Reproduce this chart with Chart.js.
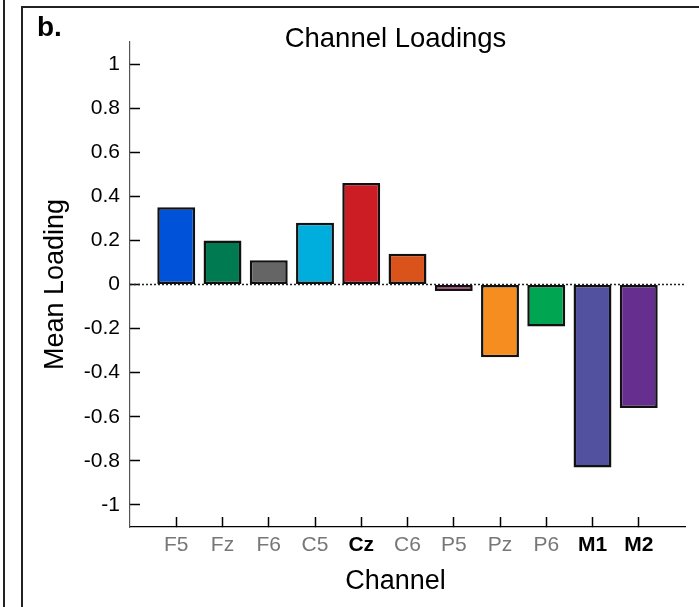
<!DOCTYPE html>
<html>
<head>
<meta charset="utf-8">
<title>Channel Loadings</title>
<script src="https://cdn.jsdelivr.net/npm/chart.js@4.4.0/dist/chart.umd.min.js"></script>
<style>
  html, body { margin: 0; padding: 0; background: #fff; overflow: hidden; }
  #wrap { position: relative; width: 699px; height: 607px; overflow: hidden; }
  .edge { position: absolute; left: 3px; top: 0; width: 2px; height: 607px; background: #222; }
  .frame-top { position: absolute; left: 21px; top: 6px; width: 678px; height: 2px; background: #222; }
  .frame-left { position: absolute; left: 21px; top: 6px; width: 2px; height: 601px; background: #222; }
  canvas { position: absolute; left: 0; top: 0; }
</style>
</head>
<body>
<div id="wrap">
  <div class="edge"></div>
  <div class="frame-top"></div>
  <div class="frame-left"></div>
  <canvas id="myChart" width="699" height="607"></canvas>
</div>
<script>
const channels = ['F5', 'Fz', 'F6', 'C5', 'Cz', 'C6', 'P5', 'Pz', 'P6', 'M1', 'M2'];
const loadings = [0.35, 0.2, 0.11, 0.28, 0.46, 0.14, -0.03, -0.33, -0.19, -0.83, -0.56];
const barColors = ['#0052d9', '#007a50', '#646564', '#00aedd', '#cc1d25', '#d9531a',
                   '#b51f6b', '#f68d20', '#00a551', '#5151a0', '#662e8e'];
const boldChannels = ['Cz', 'M1', 'M2'];
const yTicks = [-1, -0.8, -0.6, -0.4, -0.2, 0, 0.2, 0.4, 0.6, 0.8, 1];

const FONT = '"Liberation Sans", Arial, sans-serif';
Chart.defaults.font.family = FONT;
Chart.defaults.color = '#000';

// dotted line at zero, under the bars
const zeroLine = {
    id: 'zeroLine',
    beforeDatasetsDraw(chart) {
        const { ctx, chartArea, scales } = chart;
        const y = scales.y.getPixelForValue(0);
        ctx.save();
        ctx.strokeStyle = '#222';
        ctx.lineWidth = 1.5;
        ctx.setLineDash([2, 2]);
        ctx.beginPath();
        ctx.moveTo(chartArea.left, y);
        ctx.lineTo(chartArea.right, y);
        ctx.stroke();
        ctx.restore();
    }
};

// panel letter, title and x title (both titles sit a bit left of the plot centre)
const panelText = {
    id: 'panelText',
    afterDraw(chart) {
        const { ctx, chartArea } = chart;
        const cx = (chartArea.left + chartArea.right) / 2 - 12;
        ctx.save();
        ctx.fillStyle = '#000';
        ctx.textBaseline = 'alphabetic';
        ctx.textAlign = 'left';
        ctx.font = 'bold 28px ' + FONT;
        ctx.fillText('b.', 37, 36);
        ctx.textAlign = 'center';
        ctx.font = '27.5px ' + FONT;
        ctx.fillText('Channel Loadings', cx, 47);
        ctx.font = '27px ' + FONT;
        ctx.fillText('Channel', cx, 589);
        ctx.restore();
    }
};

const ctx = document.getElementById('myChart').getContext('2d');
const myChart = new Chart(ctx, {
    type: 'bar',
    data: {
        datasets: [{
            label: 'Mean Loading',
            data: channels.map((c, i) => ({ x: i + 1, y: loadings[i] })),
            backgroundColor: barColors,
            borderColor: '#111',
            borderWidth: 2.5,
            borderSkipped: false,
            barPercentage: 0.82,
            categoryPercentage: 1
        }]
    },
    options: {
        responsive: false,
        animation: false,
        layout: { padding: { left: 30, right: 14, top: 42, bottom: 0 } },
        plugins: {
            legend: { display: false },
            tooltip: { enabled: false }
        },
        scales: {
            x: {
                type: 'linear',
                min: 0,
                max: 12,
                offset: false,
                afterBuildTicks: s => { s.ticks = channels.map((c, i) => ({ value: i + 1 })); },
                afterFit: s => { s.height = 80; },
                border: { color: '#000', width: 1.2 },
                grid: {
                    offset: false,
                    drawOnChartArea: false,
                    tickLength: -10,
                    tickColor: '#000',
                    tickWidth: 1.5
                },
                ticks: {
                    autoSkip: false,
                    maxRotation: 0,
                    padding: 16,
                    callback: v => channels[v - 1],
                    color: c => boldChannels.includes(channels[c.index]) ? '#000' : '#777',
                    font: c => ({ size: 21, weight: boldChannels.includes(channels[c.index]) ? 'bold' : 'normal' })
                }
            },
            y: {
                min: -1.1,
                max: 1.1,
                afterBuildTicks: s => { s.ticks = yTicks.map(v => ({ value: v })); },
                afterFit: s => { s.width = 100; },
                border: { color: '#555', width: 1.2 },
                grid: {
                    drawOnChartArea: false,
                    tickLength: -10,
                    tickColor: '#000',
                    tickWidth: 1.5
                },
                ticks: {
                    padding: 20,
                    font: { size: 21 },
                    callback: v => String(v)
                },
                title: {
                    display: true,
                    text: 'Mean Loading',
                    font: { size: 27 },
                    padding: { top: 9, bottom: 0 }
                }
            }
        }
    },
    plugins: [zeroLine, panelText]
});
</script>
</body>
</html>
